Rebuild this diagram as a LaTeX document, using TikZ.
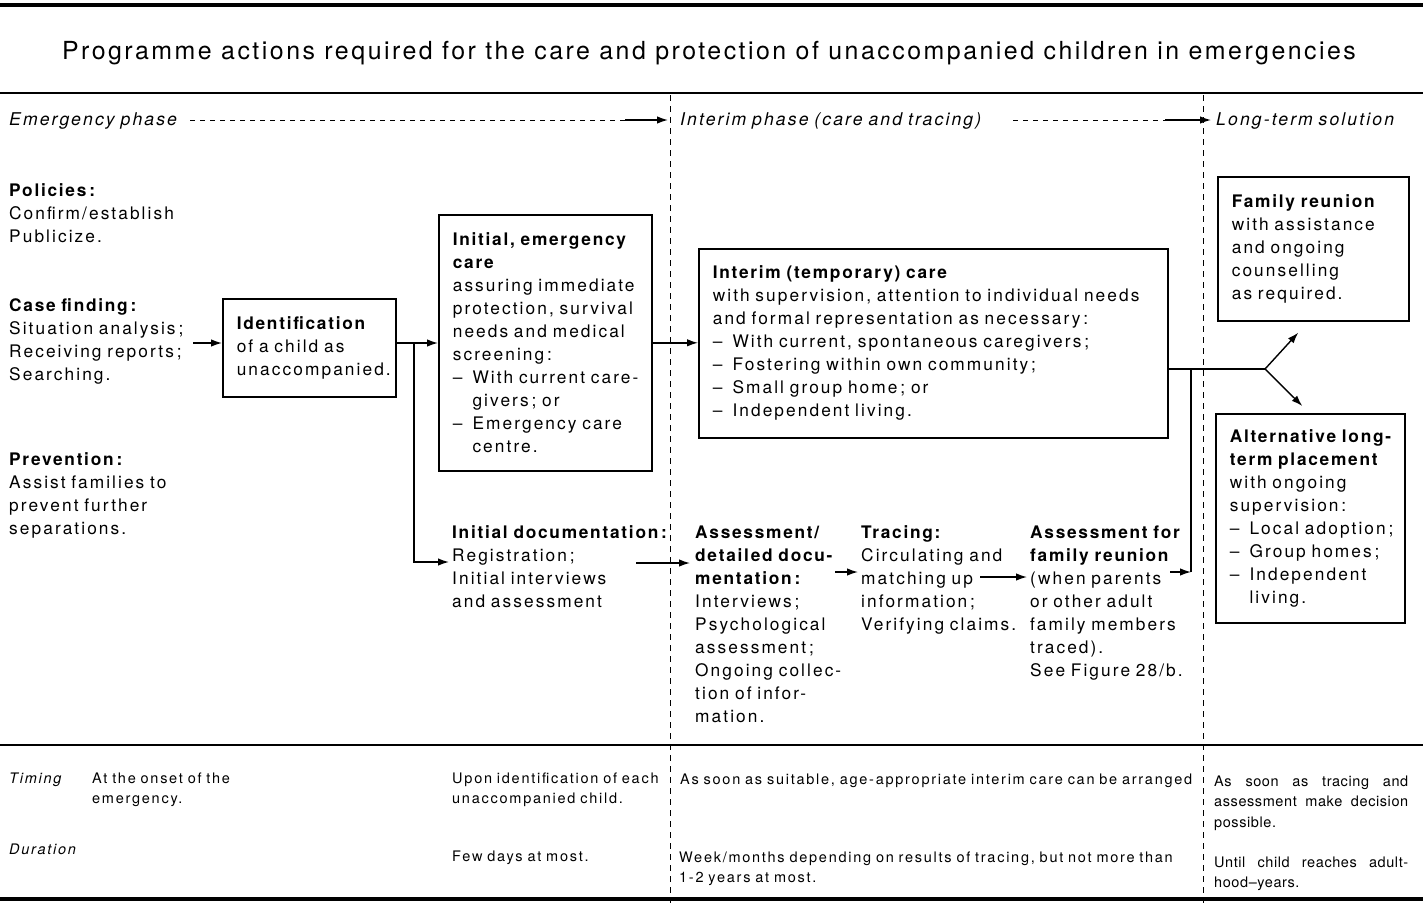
\documentclass[tikz,border=0pt]{standalone}
\usepackage{fontspec}
\setmainfont{TeX Gyre Heros}[LetterSpace=12, BoldFeatures={LetterSpace=10}]
\newfontfamily\titlefont{TeX Gyre Heros}[LetterSpace=10]
\usetikzlibrary{arrows.meta,calc}
\newcommand\bodyfs{\fontsize{17.3}{23}\selectfont}
\newcommand\titlefs{\titlefont\fontsize{24.9}{28}\selectfont}
\newcommand\phasefs{\fontsize{17.6}{20}\selectfont\itshape}
\newcommand\smallfs{\fontsize{14.5}{20.5}\selectfont}
\newcommand\dsh{–\ \hspace{0.25em}}
\newcommand\ind{\phantom{–}\ \hspace{0.25em}}
\newcommand\spr[1]{\makebox[194pt][l]{#1}}
\begin{document}
\begin{tikzpicture}[x=1pt,y=-1pt,
  box/.style={draw, line width=1.6pt, anchor=north west, inner xsep=14pt, inner ysep=0pt, align=left, font=\bodyfs},
  blk/.style={anchor=base west, inner sep=0pt, align=left, font=\bodyfs, text width=220pt},
  sblk/.style={anchor=base west, inner sep=0pt, align=left, font=\smallfs, text width=230pt},
  arr/.style={line width=1.4pt, -{Latex[length=11pt,width=7.5pt]}},
  ln/.style={line width=1.4pt},
  vdash/.style={line width=0.9pt, dash pattern=on 6pt off 5pt},
  phd/.style={line width=1pt, dash pattern=on 5pt off 5pt},
  rulethick/.style={line width=4pt},
  rulemid/.style={line width=2.5pt}]
\fill[white] (0,0) rectangle (1423,903);
\useasboundingbox (0,0) rectangle (1423,903);

% rules
\draw[rulethick] (0,5) -- (1423,5);
\draw[rulemid] (0,93) -- (1423,93);
\draw[line width=2pt] (0,745) -- (1423,745);
\draw[rulethick] (0,899) -- (1423,899);
\draw[vdash] (670,95) -- (670,903);
\draw[vdash] (1203,95) -- (1203,903);

% title
\node[font=\titlefs, inner sep=0pt] (title) at (709,53) {Programme actions required for the care and protection of unaccompanied children in emergencies};

% phases
\node[blk, font=\phasefs] (ephase) at (9,125) {Emergency phase};
\node[blk, font=\phasefs, text width=300pt] (iphase) at (680,125) {Interim phase (care and tracing)};
\node[blk, font=\phasefs, text width=190pt] (lphase) at (1216,125) {Long-term solution};
\coordinate (pa0) at (190,120);
\coordinate (pa1) at (625,120);
\coordinate (pa2) at (668,120);
\draw[phd] (pa0) -- (pa1);
\draw[arr] (pa1) -- (pa2);
\coordinate (pb0) at (1013,120);
\coordinate (pb1) at (1165,120);
\coordinate (pb2) at (1211,120);
\draw[phd] (pb0) -- (pb1);
\draw[arr] (pb1) -- (pb2);

% left column
\node[blk] (policies) at (9,196) {\textbf{Policies\,:}\\Confirm/establish\\Publicize.};
\node[blk] (casefind) at (9,311) {\textbf{Case finding\,:}\\Situation analysis\,;\\Receiving reports\,;\\Searching.};
\node[blk] (prevent) at (9,465) {\textbf{Prevention\,:}\\Assist families to\\prevent further\\separations.};

% boxes
\node[box, minimum width=173pt, minimum height=98pt, text width=145pt] (ident) at (222,298)
  {\textbf{Identification}\\of a child as\\unaccompanied.};
\node[box, minimum width=213pt, minimum height=256pt, text width=185pt] (iecare) at (438,214)
  {\textbf{Initial, emergency}\\\textbf{care}\\assuring immediate\\protection, survival\\needs and medical\\screening\,:\\\mbox{\dsh With current care-}\\\ind givers\,; or\\\dsh Emergency care\\\ind centre.};
\node[box, minimum width=469pt, minimum height=189pt, text width=441pt] (interim) at (698,248)
  {\textbf{Interim (temporary) care}\\with supervision, attention to individual needs\\and formal representation as necessary\,:\\\dsh With current, spontaneous caregivers\,;\\\dsh Fostering within own community\,;\\\dsh Small group home\,; or\\\dsh Independent living.};
\node[box, minimum width=191pt, minimum height=144pt, text width=163pt] (famre) at (1217,176)
  {\textbf{Family reunion}\\with assistance\\and ongoing\\counselling\\as required.};
\node[box, minimum width=189pt, minimum height=209pt, text width=161pt] (alt) at (1215,413)
  {\mbox{\textbf{Alternative long-}}\\\textbf{term placement}\\with ongoing\\supervision\,:\\\mbox{\dsh Local adoption\,;}\\\dsh Group homes\,;\\\dsh Independent\\\ind living.};

% lower texts
\node[blk] (initdoc) at (452,538) {\textbf{Initial documentation\,:}\\Registration\,;\\Initial interviews\\and assessment};
\node[blk, text width=150pt] (assessdoc) at (695,538) {\textbf{Assessment/}\\\textbf{detailed docu-}\\\textbf{mentation\,:}\\Interviews\,;\\Psychological\\assessment\,;\\Ongoing collec-\\tion of infor-\\mation.};
\node[blk, text width=160pt] (tracing) at (861,538) {\textbf{Tracing:}\\Circulating and\\matching up\\information\,;\\Verifying claims.};
\node[blk, text width=160pt] (assessfam) at (1030,538) {\textbf{Assessment for}\\\textbf{family reunion}\\(when parents\\or other adult\\family members\\traced).\\See Figure 28/b.};

% connectors
\coordinate (cf) at (193,343);
\draw[arr] (cf) -- (cf -| ident.west);
\coordinate (j1) at (414,343);
\draw[ln] (j1 -| ident.east) -- (j1);
\draw[arr] (j1) -- (j1 -| iecare.west);
\coordinate (d1) at (449,562);
\draw[arr] (j1) |- (d1);
\draw[arr] (iecare.east) -- (iecare.east -| interim.west);
\coordinate (d2) at (636,563);
\draw[arr] (d2) -- ([xshift=-5pt]assessdoc.west |- d2);
\coordinate (d3) at (835,572);
\draw[arr] (d3) -- ([xshift=-3pt]tracing.west |- d3);
\coordinate (d4) at (980,577);
\draw[arr] (d4) -- ([xshift=-3pt]assessfam.west |- d4);
\coordinate (j2) at (1265,369);
\coordinate (j3) at (1191,572);
\coordinate (d5) at (1170,572);
\draw[arr] (d5) -- (j3);
\draw[ln] (j3) -- (j3 |- j2);
\draw[ln] (interim.east |- j2) -- (j2);
\draw[arr] (j2) -- ($(famre.south)+(-15,11)$);
\draw[arr] (j2) -- ($(alt.north)+(-8,-7)$);

% bottom table
\node[sblk, font=\smallfs\itshape, text width=70pt] (timing) at (9,783) {Timing};
\node[sblk] (t1) at (92,783) {At the onset of the\\emergency.};
\node[sblk] (t2) at (452,783) {Upon identification of each\\unaccompanied child.};
\node[sblk, text width=520pt] (t3) at (680,784) {As soon as suitable, age-appropriate interim care can be arranged};
\node[sblk, text width=200pt, font=\smallfs\addfontfeature{LetterSpace=4}] (t4) at (1214,786) {\spr{As\hfill soon\hfill as\hfill tracing\hfill and}\\\spr{assessment\hfill make\hfill decision}\\possible.};
\node[sblk, font=\smallfs\itshape, text width=70pt] (dur) at (9,854) {Duration};
\node[sblk] (u2) at (452,861) {Few days at most.};
\node[sblk, text width=520pt] (u3) at (679,862) {Week/months depending on results of tracing, but not more than\\1-2 years at most.};
\node[sblk, text width=200pt, font=\smallfs\addfontfeature{LetterSpace=4}] (u4) at (1214,867) {\spr{Until\hfill child\hfill reaches\hfill adult-}\\hood–years.};
\end{tikzpicture}
\end{document}
